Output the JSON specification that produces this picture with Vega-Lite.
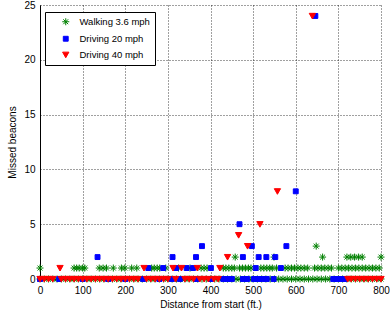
{
  "$schema": "https://vega.github.io/schema/vega-lite/v6.json",
  "autosize": {"type": "none"},
  "width": 341,
  "height": 274,
  "padding": {"left": 40, "top": 5, "right": 9, "bottom": 33},
  "background": "white",
  "config": {
    "view": {"stroke": null},
    "font": "Liberation Sans",
    "axis": {
      "domainColor": "#000", "domainWidth": 1,
      "labelColor": "#000", "titleColor": "#000",
      "ticks": false,
      "labelFont": "Liberation Sans", "titleFont": "Liberation Sans",
      "labelFontSize": 10, "titleFontSize": 10, "titleFontWeight": "normal",
      "gridColor": "#000", "gridDash": [1, 2], "gridOpacity": 0.75,
      "labelFlush": false
    },
    "legend": {
      "orient": "none", "legendX": 5, "legendY": 7,
      "strokeColor": "#000", "fillColor": "white", "padding": 5,
      "symbolOffset": 11, "labelOffset": 9, "rowPadding": 5,
      "labelFont": "Liberation Sans", "labelFontSize": 9.5, "labelColor": "#000",
      "symbolStrokeWidth": 1, "symbolSize": 49
    }
  },
  "data": {"values": [
    {"distance": 0, "missed": 0, "mode": "Walking 3.6 mph"},
    {"distance": 10, "missed": 0, "mode": "Walking 3.6 mph"},
    {"distance": 20, "missed": 0, "mode": "Walking 3.6 mph"},
    {"distance": 30, "missed": 0, "mode": "Walking 3.6 mph"},
    {"distance": 40, "missed": 0, "mode": "Walking 3.6 mph"},
    {"distance": 50, "missed": 0, "mode": "Walking 3.6 mph"},
    {"distance": 60, "missed": 0, "mode": "Walking 3.6 mph"},
    {"distance": 70, "missed": 0, "mode": "Walking 3.6 mph"},
    {"distance": 80, "missed": 0, "mode": "Walking 3.6 mph"},
    {"distance": 90, "missed": 0, "mode": "Walking 3.6 mph"},
    {"distance": 100, "missed": 0, "mode": "Walking 3.6 mph"},
    {"distance": 110, "missed": 0, "mode": "Walking 3.6 mph"},
    {"distance": 120, "missed": 0, "mode": "Walking 3.6 mph"},
    {"distance": 130, "missed": 0, "mode": "Walking 3.6 mph"},
    {"distance": 140, "missed": 0, "mode": "Walking 3.6 mph"},
    {"distance": 150, "missed": 0, "mode": "Walking 3.6 mph"},
    {"distance": 160, "missed": 0, "mode": "Walking 3.6 mph"},
    {"distance": 170, "missed": 0, "mode": "Walking 3.6 mph"},
    {"distance": 180, "missed": 0, "mode": "Walking 3.6 mph"},
    {"distance": 190, "missed": 0, "mode": "Walking 3.6 mph"},
    {"distance": 200, "missed": 0, "mode": "Walking 3.6 mph"},
    {"distance": 210, "missed": 0, "mode": "Walking 3.6 mph"},
    {"distance": 220, "missed": 0, "mode": "Walking 3.6 mph"},
    {"distance": 230, "missed": 0, "mode": "Walking 3.6 mph"},
    {"distance": 240, "missed": 0, "mode": "Walking 3.6 mph"},
    {"distance": 250, "missed": 0, "mode": "Walking 3.6 mph"},
    {"distance": 260, "missed": 0, "mode": "Walking 3.6 mph"},
    {"distance": 270, "missed": 0, "mode": "Walking 3.6 mph"},
    {"distance": 280, "missed": 0, "mode": "Walking 3.6 mph"},
    {"distance": 290, "missed": 0, "mode": "Walking 3.6 mph"},
    {"distance": 300, "missed": 0, "mode": "Walking 3.6 mph"},
    {"distance": 310, "missed": 0, "mode": "Walking 3.6 mph"},
    {"distance": 320, "missed": 0, "mode": "Walking 3.6 mph"},
    {"distance": 330, "missed": 0, "mode": "Walking 3.6 mph"},
    {"distance": 340, "missed": 0, "mode": "Walking 3.6 mph"},
    {"distance": 350, "missed": 0, "mode": "Walking 3.6 mph"},
    {"distance": 360, "missed": 0, "mode": "Walking 3.6 mph"},
    {"distance": 370, "missed": 0, "mode": "Walking 3.6 mph"},
    {"distance": 380, "missed": 0, "mode": "Walking 3.6 mph"},
    {"distance": 390, "missed": 0, "mode": "Walking 3.6 mph"},
    {"distance": 400, "missed": 0, "mode": "Walking 3.6 mph"},
    {"distance": 410, "missed": 0, "mode": "Walking 3.6 mph"},
    {"distance": 420, "missed": 0, "mode": "Walking 3.6 mph"},
    {"distance": 430, "missed": 0, "mode": "Walking 3.6 mph"},
    {"distance": 440, "missed": 0, "mode": "Walking 3.6 mph"},
    {"distance": 450, "missed": 0, "mode": "Walking 3.6 mph"},
    {"distance": 460, "missed": 0, "mode": "Walking 3.6 mph"},
    {"distance": 470, "missed": 0, "mode": "Walking 3.6 mph"},
    {"distance": 480, "missed": 0, "mode": "Walking 3.6 mph"},
    {"distance": 490, "missed": 0, "mode": "Walking 3.6 mph"},
    {"distance": 500, "missed": 0, "mode": "Walking 3.6 mph"},
    {"distance": 510, "missed": 0, "mode": "Walking 3.6 mph"},
    {"distance": 520, "missed": 0, "mode": "Walking 3.6 mph"},
    {"distance": 530, "missed": 0, "mode": "Walking 3.6 mph"},
    {"distance": 540, "missed": 0, "mode": "Walking 3.6 mph"},
    {"distance": 550, "missed": 0, "mode": "Walking 3.6 mph"},
    {"distance": 560, "missed": 0, "mode": "Walking 3.6 mph"},
    {"distance": 570, "missed": 0, "mode": "Walking 3.6 mph"},
    {"distance": 580, "missed": 0, "mode": "Walking 3.6 mph"},
    {"distance": 590, "missed": 0, "mode": "Walking 3.6 mph"},
    {"distance": 600, "missed": 0, "mode": "Walking 3.6 mph"},
    {"distance": 610, "missed": 0, "mode": "Walking 3.6 mph"},
    {"distance": 620, "missed": 0, "mode": "Walking 3.6 mph"},
    {"distance": 630, "missed": 0, "mode": "Walking 3.6 mph"},
    {"distance": 640, "missed": 0, "mode": "Walking 3.6 mph"},
    {"distance": 650, "missed": 0, "mode": "Walking 3.6 mph"},
    {"distance": 660, "missed": 0, "mode": "Walking 3.6 mph"},
    {"distance": 670, "missed": 0, "mode": "Walking 3.6 mph"},
    {"distance": 680, "missed": 0, "mode": "Walking 3.6 mph"},
    {"distance": 690, "missed": 0, "mode": "Walking 3.6 mph"},
    {"distance": 700, "missed": 0, "mode": "Walking 3.6 mph"},
    {"distance": 710, "missed": 0, "mode": "Walking 3.6 mph"},
    {"distance": 720, "missed": 0, "mode": "Walking 3.6 mph"},
    {"distance": 730, "missed": 0, "mode": "Walking 3.6 mph"},
    {"distance": 740, "missed": 0, "mode": "Walking 3.6 mph"},
    {"distance": 750, "missed": 0, "mode": "Walking 3.6 mph"},
    {"distance": 760, "missed": 0, "mode": "Walking 3.6 mph"},
    {"distance": 770, "missed": 0, "mode": "Walking 3.6 mph"},
    {"distance": 780, "missed": 0, "mode": "Walking 3.6 mph"},
    {"distance": 790, "missed": 0, "mode": "Walking 3.6 mph"},
    {"distance": 800, "missed": 0, "mode": "Walking 3.6 mph"},
    {"distance": 0, "missed": 1, "mode": "Walking 3.6 mph"},
    {"distance": 80, "missed": 1, "mode": "Walking 3.6 mph"},
    {"distance": 86, "missed": 1, "mode": "Walking 3.6 mph"},
    {"distance": 92, "missed": 1, "mode": "Walking 3.6 mph"},
    {"distance": 100, "missed": 1, "mode": "Walking 3.6 mph"},
    {"distance": 105, "missed": 1, "mode": "Walking 3.6 mph"},
    {"distance": 139, "missed": 1, "mode": "Walking 3.6 mph"},
    {"distance": 148, "missed": 1, "mode": "Walking 3.6 mph"},
    {"distance": 156, "missed": 1, "mode": "Walking 3.6 mph"},
    {"distance": 172, "missed": 1, "mode": "Walking 3.6 mph"},
    {"distance": 191, "missed": 1, "mode": "Walking 3.6 mph"},
    {"distance": 199, "missed": 1, "mode": "Walking 3.6 mph"},
    {"distance": 215, "missed": 1, "mode": "Walking 3.6 mph"},
    {"distance": 227, "missed": 1, "mode": "Walking 3.6 mph"},
    {"distance": 262, "missed": 1, "mode": "Walking 3.6 mph"},
    {"distance": 268, "missed": 1, "mode": "Walking 3.6 mph"},
    {"distance": 275, "missed": 1, "mode": "Walking 3.6 mph"},
    {"distance": 281, "missed": 1, "mode": "Walking 3.6 mph"},
    {"distance": 295, "missed": 1, "mode": "Walking 3.6 mph"},
    {"distance": 325, "missed": 1, "mode": "Walking 3.6 mph"},
    {"distance": 352, "missed": 1, "mode": "Walking 3.6 mph"},
    {"distance": 378, "missed": 1, "mode": "Walking 3.6 mph"},
    {"distance": 385, "missed": 1, "mode": "Walking 3.6 mph"},
    {"distance": 392, "missed": 1, "mode": "Walking 3.6 mph"},
    {"distance": 430, "missed": 1, "mode": "Walking 3.6 mph"},
    {"distance": 436, "missed": 1, "mode": "Walking 3.6 mph"},
    {"distance": 443, "missed": 1, "mode": "Walking 3.6 mph"},
    {"distance": 450, "missed": 1, "mode": "Walking 3.6 mph"},
    {"distance": 456, "missed": 1, "mode": "Walking 3.6 mph"},
    {"distance": 468, "missed": 1, "mode": "Walking 3.6 mph"},
    {"distance": 475, "missed": 1, "mode": "Walking 3.6 mph"},
    {"distance": 482, "missed": 1, "mode": "Walking 3.6 mph"},
    {"distance": 489, "missed": 1, "mode": "Walking 3.6 mph"},
    {"distance": 495, "missed": 1, "mode": "Walking 3.6 mph"},
    {"distance": 518, "missed": 1, "mode": "Walking 3.6 mph"},
    {"distance": 525, "missed": 1, "mode": "Walking 3.6 mph"},
    {"distance": 532, "missed": 1, "mode": "Walking 3.6 mph"},
    {"distance": 539, "missed": 1, "mode": "Walking 3.6 mph"},
    {"distance": 545, "missed": 1, "mode": "Walking 3.6 mph"},
    {"distance": 555, "missed": 1, "mode": "Walking 3.6 mph"},
    {"distance": 575, "missed": 1, "mode": "Walking 3.6 mph"},
    {"distance": 582, "missed": 1, "mode": "Walking 3.6 mph"},
    {"distance": 590, "missed": 1, "mode": "Walking 3.6 mph"},
    {"distance": 597, "missed": 1, "mode": "Walking 3.6 mph"},
    {"distance": 605, "missed": 1, "mode": "Walking 3.6 mph"},
    {"distance": 612, "missed": 1, "mode": "Walking 3.6 mph"},
    {"distance": 620, "missed": 1, "mode": "Walking 3.6 mph"},
    {"distance": 628, "missed": 1, "mode": "Walking 3.6 mph"},
    {"distance": 644, "missed": 1, "mode": "Walking 3.6 mph"},
    {"distance": 652, "missed": 1, "mode": "Walking 3.6 mph"},
    {"distance": 660, "missed": 1, "mode": "Walking 3.6 mph"},
    {"distance": 668, "missed": 1, "mode": "Walking 3.6 mph"},
    {"distance": 676, "missed": 1, "mode": "Walking 3.6 mph"},
    {"distance": 684, "missed": 1, "mode": "Walking 3.6 mph"},
    {"distance": 700, "missed": 1, "mode": "Walking 3.6 mph"},
    {"distance": 708, "missed": 1, "mode": "Walking 3.6 mph"},
    {"distance": 716, "missed": 1, "mode": "Walking 3.6 mph"},
    {"distance": 724, "missed": 1, "mode": "Walking 3.6 mph"},
    {"distance": 732, "missed": 1, "mode": "Walking 3.6 mph"},
    {"distance": 740, "missed": 1, "mode": "Walking 3.6 mph"},
    {"distance": 748, "missed": 1, "mode": "Walking 3.6 mph"},
    {"distance": 756, "missed": 1, "mode": "Walking 3.6 mph"},
    {"distance": 764, "missed": 1, "mode": "Walking 3.6 mph"},
    {"distance": 772, "missed": 1, "mode": "Walking 3.6 mph"},
    {"distance": 780, "missed": 1, "mode": "Walking 3.6 mph"},
    {"distance": 788, "missed": 1, "mode": "Walking 3.6 mph"},
    {"distance": 796, "missed": 1, "mode": "Walking 3.6 mph"},
    {"distance": 458, "missed": 2, "mode": "Walking 3.6 mph"},
    {"distance": 549, "missed": 2, "mode": "Walking 3.6 mph"},
    {"distance": 663, "missed": 2, "mode": "Walking 3.6 mph"},
    {"distance": 720, "missed": 2, "mode": "Walking 3.6 mph"},
    {"distance": 729, "missed": 2, "mode": "Walking 3.6 mph"},
    {"distance": 738, "missed": 2, "mode": "Walking 3.6 mph"},
    {"distance": 747, "missed": 2, "mode": "Walking 3.6 mph"},
    {"distance": 756, "missed": 2, "mode": "Walking 3.6 mph"},
    {"distance": 800, "missed": 2, "mode": "Walking 3.6 mph"},
    {"distance": 648, "missed": 3, "mode": "Walking 3.6 mph"},
    {"distance": 0, "missed": 0, "mode": "Driving 20 mph"},
    {"distance": 45, "missed": 0, "mode": "Driving 20 mph"},
    {"distance": 100, "missed": 0, "mode": "Driving 20 mph"},
    {"distance": 160, "missed": 0, "mode": "Driving 20 mph"},
    {"distance": 200, "missed": 0, "mode": "Driving 20 mph"},
    {"distance": 242, "missed": 0, "mode": "Driving 20 mph"},
    {"distance": 280, "missed": 0, "mode": "Driving 20 mph"},
    {"distance": 309, "missed": 0, "mode": "Driving 20 mph"},
    {"distance": 328, "missed": 0, "mode": "Driving 20 mph"},
    {"distance": 367, "missed": 0, "mode": "Driving 20 mph"},
    {"distance": 400, "missed": 0, "mode": "Driving 20 mph"},
    {"distance": 430, "missed": 0, "mode": "Driving 20 mph"},
    {"distance": 440, "missed": 0, "mode": "Driving 20 mph"},
    {"distance": 450, "missed": 0, "mode": "Driving 20 mph"},
    {"distance": 476, "missed": 0, "mode": "Driving 20 mph"},
    {"distance": 486, "missed": 0, "mode": "Driving 20 mph"},
    {"distance": 502, "missed": 0, "mode": "Driving 20 mph"},
    {"distance": 512, "missed": 0, "mode": "Driving 20 mph"},
    {"distance": 522, "missed": 0, "mode": "Driving 20 mph"},
    {"distance": 532, "missed": 0, "mode": "Driving 20 mph"},
    {"distance": 548, "missed": 0, "mode": "Driving 20 mph"},
    {"distance": 688, "missed": 0, "mode": "Driving 20 mph"},
    {"distance": 697, "missed": 0, "mode": "Driving 20 mph"},
    {"distance": 706, "missed": 0, "mode": "Driving 20 mph"},
    {"distance": 714, "missed": 0, "mode": "Driving 20 mph"},
    {"distance": 254, "missed": 1, "mode": "Driving 20 mph"},
    {"distance": 289, "missed": 1, "mode": "Driving 20 mph"},
    {"distance": 319, "missed": 1, "mode": "Driving 20 mph"},
    {"distance": 344, "missed": 1, "mode": "Driving 20 mph"},
    {"distance": 359, "missed": 1, "mode": "Driving 20 mph"},
    {"distance": 401, "missed": 1, "mode": "Driving 20 mph"},
    {"distance": 506, "missed": 1, "mode": "Driving 20 mph"},
    {"distance": 565, "missed": 1, "mode": "Driving 20 mph"},
    {"distance": 135, "missed": 2, "mode": "Driving 20 mph"},
    {"distance": 311, "missed": 2, "mode": "Driving 20 mph"},
    {"distance": 366, "missed": 2, "mode": "Driving 20 mph"},
    {"distance": 476, "missed": 2, "mode": "Driving 20 mph"},
    {"distance": 513, "missed": 2, "mode": "Driving 20 mph"},
    {"distance": 531, "missed": 2, "mode": "Driving 20 mph"},
    {"distance": 552, "missed": 2, "mode": "Driving 20 mph"},
    {"distance": 380, "missed": 3, "mode": "Driving 20 mph"},
    {"distance": 497, "missed": 3, "mode": "Driving 20 mph"},
    {"distance": 578, "missed": 3, "mode": "Driving 20 mph"},
    {"distance": 468, "missed": 5, "mode": "Driving 20 mph"},
    {"distance": 600, "missed": 8, "mode": "Driving 20 mph"},
    {"distance": 646, "missed": 24, "mode": "Driving 20 mph"},
    {"distance": 0, "missed": 0, "mode": "Driving 40 mph"},
    {"distance": 10, "missed": 0, "mode": "Driving 40 mph"},
    {"distance": 20, "missed": 0, "mode": "Driving 40 mph"},
    {"distance": 30, "missed": 0, "mode": "Driving 40 mph"},
    {"distance": 50, "missed": 0, "mode": "Driving 40 mph"},
    {"distance": 60, "missed": 0, "mode": "Driving 40 mph"},
    {"distance": 70, "missed": 0, "mode": "Driving 40 mph"},
    {"distance": 80, "missed": 0, "mode": "Driving 40 mph"},
    {"distance": 90, "missed": 0, "mode": "Driving 40 mph"},
    {"distance": 100, "missed": 0, "mode": "Driving 40 mph"},
    {"distance": 110, "missed": 0, "mode": "Driving 40 mph"},
    {"distance": 120, "missed": 0, "mode": "Driving 40 mph"},
    {"distance": 130, "missed": 0, "mode": "Driving 40 mph"},
    {"distance": 140, "missed": 0, "mode": "Driving 40 mph"},
    {"distance": 150, "missed": 0, "mode": "Driving 40 mph"},
    {"distance": 160, "missed": 0, "mode": "Driving 40 mph"},
    {"distance": 170, "missed": 0, "mode": "Driving 40 mph"},
    {"distance": 180, "missed": 0, "mode": "Driving 40 mph"},
    {"distance": 190, "missed": 0, "mode": "Driving 40 mph"},
    {"distance": 200, "missed": 0, "mode": "Driving 40 mph"},
    {"distance": 210, "missed": 0, "mode": "Driving 40 mph"},
    {"distance": 220, "missed": 0, "mode": "Driving 40 mph"},
    {"distance": 230, "missed": 0, "mode": "Driving 40 mph"},
    {"distance": 250, "missed": 0, "mode": "Driving 40 mph"},
    {"distance": 260, "missed": 0, "mode": "Driving 40 mph"},
    {"distance": 270, "missed": 0, "mode": "Driving 40 mph"},
    {"distance": 280, "missed": 0, "mode": "Driving 40 mph"},
    {"distance": 290, "missed": 0, "mode": "Driving 40 mph"},
    {"distance": 300, "missed": 0, "mode": "Driving 40 mph"},
    {"distance": 318, "missed": 0, "mode": "Driving 40 mph"},
    {"distance": 340, "missed": 0, "mode": "Driving 40 mph"},
    {"distance": 350, "missed": 0, "mode": "Driving 40 mph"},
    {"distance": 360, "missed": 0, "mode": "Driving 40 mph"},
    {"distance": 375, "missed": 0, "mode": "Driving 40 mph"},
    {"distance": 385, "missed": 0, "mode": "Driving 40 mph"},
    {"distance": 395, "missed": 0, "mode": "Driving 40 mph"},
    {"distance": 408, "missed": 0, "mode": "Driving 40 mph"},
    {"distance": 418, "missed": 0, "mode": "Driving 40 mph"},
    {"distance": 722, "missed": 0, "mode": "Driving 40 mph"},
    {"distance": 730, "missed": 0, "mode": "Driving 40 mph"},
    {"distance": 740, "missed": 0, "mode": "Driving 40 mph"},
    {"distance": 750, "missed": 0, "mode": "Driving 40 mph"},
    {"distance": 760, "missed": 0, "mode": "Driving 40 mph"},
    {"distance": 770, "missed": 0, "mode": "Driving 40 mph"},
    {"distance": 780, "missed": 0, "mode": "Driving 40 mph"},
    {"distance": 790, "missed": 0, "mode": "Driving 40 mph"},
    {"distance": 800, "missed": 0, "mode": "Driving 40 mph"},
    {"distance": 47, "missed": 1, "mode": "Driving 40 mph"},
    {"distance": 244, "missed": 1, "mode": "Driving 40 mph"},
    {"distance": 312, "missed": 1, "mode": "Driving 40 mph"},
    {"distance": 332, "missed": 1, "mode": "Driving 40 mph"},
    {"distance": 369, "missed": 1, "mode": "Driving 40 mph"},
    {"distance": 422, "missed": 1, "mode": "Driving 40 mph"},
    {"distance": 440, "missed": 2, "mode": "Driving 40 mph"},
    {"distance": 487, "missed": 3, "mode": "Driving 40 mph"},
    {"distance": 466, "missed": 4, "mode": "Driving 40 mph"},
    {"distance": 516, "missed": 5, "mode": "Driving 40 mph"},
    {"distance": 557, "missed": 8, "mode": "Driving 40 mph"},
    {"distance": 639, "missed": 24, "mode": "Driving 40 mph"}
  ]},
  "mark": {"type": "point", "filled": true, "strokeWidth": 1, "opacity": 1, "size": 49, "clip": false},
  "encoding": {
    "x": {
      "field": "distance", "type": "quantitative",
      "scale": {"domain": [0, 800], "nice": false, "zero": false},
      "axis": {"values": [0, 100, 200, 300, 400, 500, 600, 700, 800], "title": "Distance from start (ft.)", "labelPadding": 6, "titlePadding": 4}
    },
    "y": {
      "field": "missed", "type": "quantitative",
      "scale": {"domain": [0, 25], "nice": false},
      "axis": {"values": [0, 5, 10, 15, 20, 25], "title": "Missed beacons", "labelPadding": 5, "titlePadding": 6}
    },
    "color": {
      "field": "mode", "type": "nominal",
      "scale": {"domain": ["Walking 3.6 mph", "Driving 20 mph", "Driving 40 mph"], "range": ["#008000", "#0000ff", "#ff0000"]},
      "legend": {"title": null}
    },
    "stroke": {
      "field": "mode", "type": "nominal",
      "scale": {"domain": ["Walking 3.6 mph", "Driving 20 mph", "Driving 40 mph"], "range": ["#008000", "#0000ff", "#ff0000"]},
      "legend": {"title": null}
    },
    "shape": {
      "field": "mode", "type": "nominal",
      "scale": {"domain": ["Walking 3.6 mph", "Driving 20 mph", "Driving 40 mph"], "range": ["M-1,0L1,0M0,-1L0,1M-0.7,-0.7L0.7,0.7M-0.7,0.7L0.7,-0.7", "M-0.7,-0.7H0.7V0.7H-0.7Z", "M-0.9,-0.75L0.9,-0.75L0,0.85Z"]},
      "legend": {"title": null}
    }
  }
}
